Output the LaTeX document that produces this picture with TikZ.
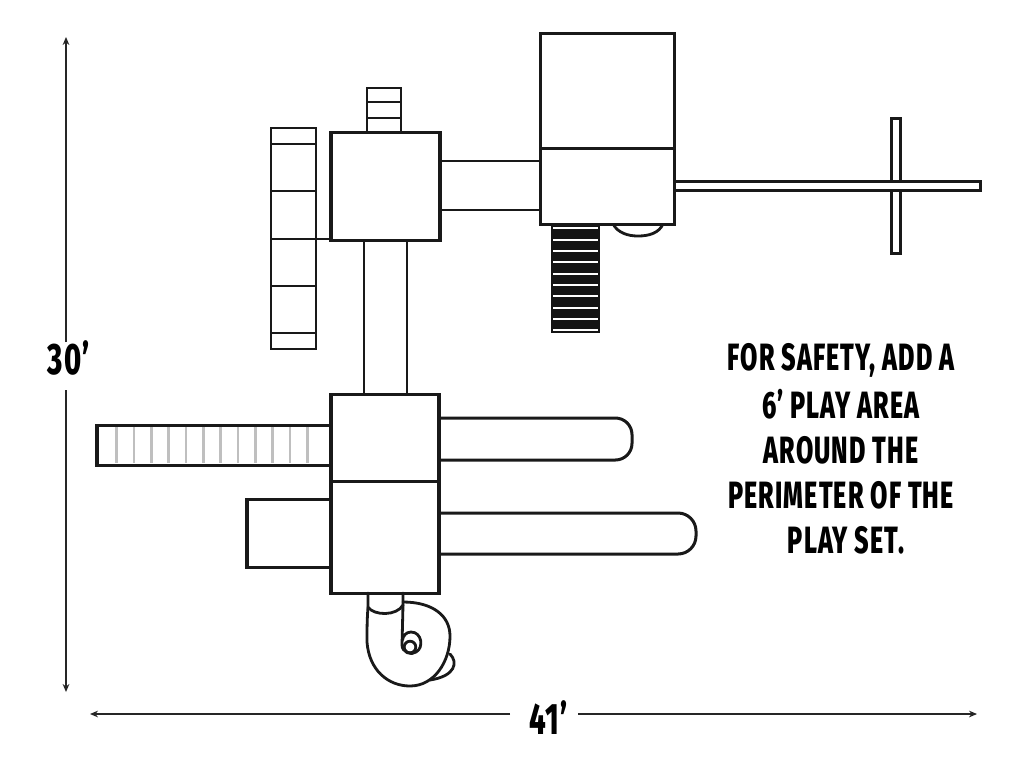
\documentclass[tikz,border=0pt]{standalone}
\usepackage{fontspec}
\setmainfont{Fira Sans}[FakeStretch=0.66,LetterSpace=3,UprightFont=* ExtraBold]
\usetikzlibrary{arrows.meta}
\tikzset{
  part/.style={draw=black!90,line width=2.26pt,fill=white,line join=miter},
  thin part/.style={draw=black!90,line width=1.9pt},
  rung/.style={draw=black!90,line width=1.9pt},
  gray rung/.style={draw=black!25,line width=2pt},
  curve/.style={draw=black!90,line width=2.1pt,line cap=round,line join=round},
  dimhalf/.style={draw=black!85,line width=0.9pt},
  tip/.style={-{Stealth[length=6pt,width=5pt]}},
  note/.style={inner sep=0pt,font=\fontsize{28.5pt}{28.5pt}\selectfont,text=black,anchor=center},
  big/.style={inner sep=0pt,font=\fontsize{33pt}{33pt}\selectfont,text=black,anchor=center}
}
\begin{document}
\begin{tikzpicture}[x=0.75pt,y=-0.75pt]
\useasboundingbox (0,0) rectangle (1024,769);
\fill[white] (0,0) rectangle (1024,769);
% cross and right beam
\draw[part] (891,118) rectangle (900,253);
\draw[part] (674,181) rectangle (980,190);
% half ellipse
\draw[curve] (613,224) .. controls (618,233) and (628,236) .. (638,236) .. controls (649,236) and (659,233) .. (663,224);
% stairs
\fill[black!92] (551,224) rectangle (600,333);
\foreach \yy in {228,240,251,262,274,285,296,308,319,330}
  \fill[white] (553,\yy-1) rectangle (598,\yy+1);
% top tower
\draw[part] (540,33) rectangle (674,224);
\draw[part] (540,148) -- (674,148);
% walkway
\draw[thin part] (440,161) -- (540,161) (440,210) -- (540,210);
% top ladder
\draw[part,line width=2.2pt] (367,88) rectangle (401,132);
\draw[rung] (367,102) -- (401,102) (367,118) -- (401,118);
% wall
\draw[part,line width=2.2pt] (271,128) rectangle (316,349);
\foreach \yy in {144,191,239,286,333}
  \draw[rung] (271,\yy) -- (316,\yy);
\draw[rung] (316,239) -- (331,239);
% upper box
\draw[part] (331,132) rectangle (440,240);
% bridge
\draw[thin part] (364,240) -- (364,394) (407,240) -- (407,394);
% left ladder
\draw[part] (97,425) rectangle (331,465);
\foreach \i in {0,...,11}
  \draw[gray rung] ({116.7+17.33*\i},427) -- ({116.7+17.33*\i},463);
% left box
\draw[part] (247,499) rectangle (331,567);
% slides
\draw[part,rounded corners=12.5pt] (420,418) -- (632,418) -- (632,460) -- (420,460);
\draw[part,rounded corners=13.5pt] (420,513) -- (696,513) -- (696,554) -- (420,554);
% lower boxes
\draw[part] (331,394) rectangle (439,593);
\draw[part] (331,481) -- (439,481);
% spiral
\draw[curve] (450,654) .. controls (458,662) and (456,676) .. (430,680);
\draw[curve,fill=white] (368,607) .. controls (367,620) and (367,630) .. (367,642) .. controls (369,670) and (388,686) .. (410,686) .. controls (434,686) and (450,662) .. (450,636) .. controls (450,616) and (433,602) .. (403,602);
\draw[curve] (368,593) -- (368,607) .. controls (374,616) and (397,616) .. (403,605) -- (403,593);
\draw[curve] (403,605) -- (402,645) .. controls (402,652) and (411,656) .. (416,652) .. controls (424,648) and (422,632) .. (411,632) .. controls (406,632) and (403,636) .. (402.5,640);
\draw[curve] (410,647) circle[radius=5.8];
% dimensions
\coordinate (vtop) at (66,37);
\coordinate (vmidA) at (66,342);
\coordinate (vmidB) at (66,390);
\coordinate (vbot) at (66,692);
\coordinate (hleft) at (90,714);
\coordinate (hmidA) at (510,714);
\coordinate (hmidB) at (578,714);
\coordinate (hright) at (977,714);
\draw[dimhalf,tip] (vmidA) -- (vtop);
\draw[dimhalf,tip] (vmidB) -- (vbot);
\draw[dimhalf,tip] (hmidA) -- (hleft);
\draw[dimhalf,tip] (hmidB) -- (hright);
\node[big] (thirty) at (69,358) {30’};
\node[big] (fortyone) at (549,718) {41’};
% note
\node[note] (l1) at (841,360) {FOR SAFETY, ADD A};
\node[note] (l2) at (841,404) {6’ PLAY AREA};
\node[note] (l3) at (841,450) {AROUND THE};
\node[note] (l4) at (841,495) {PERIMETER OF THE};
\node[note] (l5) at (846,540) {PLAY SET.};
\end{tikzpicture}
\end{document}
